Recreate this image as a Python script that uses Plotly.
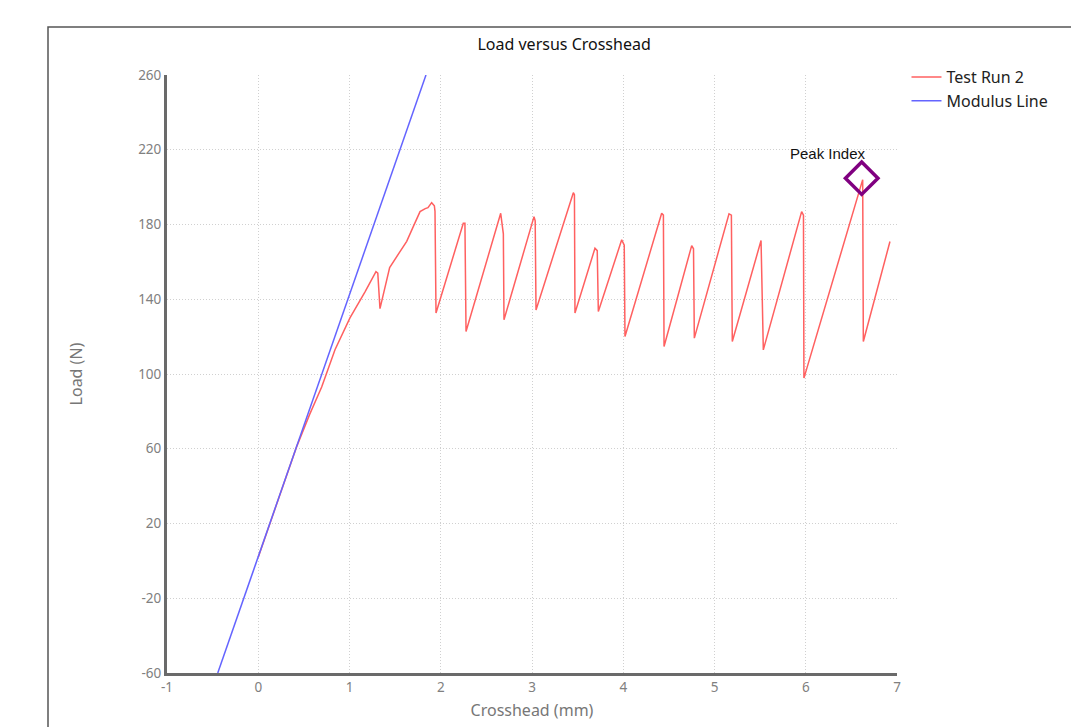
import plotly.graph_objects as go

# Test Run 2
run_x = [0.0, 0.42, 0.56, 0.695, 0.841, 1.005, 1.17, 1.29, 1.31, 1.334,
         1.44, 1.53, 1.627, 1.70, 1.773, 1.83, 1.86, 1.90, 1.93, 1.937, 1.948,
         2.247, 2.265, 2.277,
         2.657, 2.686, 2.693,
         3.022, 3.035, 3.044,
         3.453, 3.465, 3.471,
         3.69, 3.715, 3.727,
         3.983, 4.011, 4.019,
         4.421, 4.44, 4.447,
         4.75, 4.77, 4.779,
         5.159, 5.185, 5.195,
         5.51, 5.535,
         5.955, 5.975, 5.98,
         6.624, 6.631,
         6.923]
run_y = [2, 61, 78, 93, 113, 130, 144, 154.8, 154, 135,
         157, 164, 171, 179, 186.9, 188.5, 189, 191.7, 190, 187, 132.6,
         180.7, 180.7, 122.7,
         186, 175, 129,
         184.2, 182, 134.3,
         197, 196, 132.6,
         167.3, 166, 133.4,
         171.8, 169, 120.1,
         186, 185, 114.7,
         168.7, 167, 119.2,
         185.7, 185, 117.4,
         171.4, 112.9,
         186.9, 185, 97.8,
         204, 117.4,
         170.9]

# Modulus line
mod_x = [-0.444, 1.838]
mod_y = [-60, 260]

# Peak index
peak_x = [6.613]
peak_y = [204.8]
peak_label = "Peak Index"

x_ticks = [-1, 0, 1, 2, 3, 4, 5, 6, 7]
x_ticktext = ["-1", "0", "1", "2", "3", "4", "5", "6", "7"]
y_ticks = [260, 220, 180, 140, 100, 60, 20, -20, -60]
y_ticktext = ["260", "220", "180", "140", "100", "60", "20", "-20", "-60"]

fig = go.Figure()
fig.add_trace(go.Scatter(x=run_x, y=run_y, mode="lines", name="Test Run 2",
                         line=dict(color="#ff6060", width=1.5)))
fig.add_trace(go.Scatter(x=mod_x, y=mod_y, mode="lines", name="Modulus Line",
                         line=dict(color="#6464ff", width=1.5)))
fig.add_trace(go.Scatter(x=peak_x, y=peak_y, mode="markers", showlegend=False,
                         marker=dict(symbol="diamond-open", size=25,
                                     line=dict(color="#800080", width=3.5), color="#800080")))
fig.add_annotation(x=peak_x[0], y=peak_y[0], text=peak_label, showarrow=False,
                   xshift=-34, yshift=25,
                   font=dict(family="Liberation Sans, Arial", size=15, color="#111"))

axis_common = dict(showgrid=True, gridcolor="#d0d0d0", griddash="1px,2px", gridwidth=1,
                   showline=True, linecolor="#6a6a6a", linewidth=3,
                   zeroline=False, ticks="",
                   tickfont=dict(size=13.5, color="#808080"))

fig.update_xaxes(range=[-1, 7], tickvals=x_ticks, ticktext=x_ticktext,
                 title=dict(text="Crosshead (mm)", font=dict(size=16, color="#777"), standoff=10),
                 **axis_common)
fig.update_yaxes(range=[-60, 260], tickvals=y_ticks, ticktext=y_ticktext,
                 title=dict(text="Load (N)", font=dict(size=16, color="#777"), standoff=52),
                 **axis_common)

fig.update_layout(
    width=1079, height=727,
    margin=dict(l=159, r=190, t=67, b=62),
    paper_bgcolor="white", plot_bgcolor="white",
    font=dict(family="Noto Sans, Open Sans, sans-serif", color="#222"),
    title=dict(text="Load versus Crosshead", x=0.544, xref="paper", xanchor="center",
               y=1 - 36 / 727, yref="container", yanchor="middle",
               font=dict(size=16, color="#111")),
    legend=dict(x=1.013, y=1.025, xanchor="left", yanchor="top",
                font=dict(size=16, color="#222"), bgcolor="rgba(0,0,0,0)"),
    shapes=[dict(type="rect", xref="paper", yref="paper",
                 x0=(48 - 167) / 730, x1=(1073 - 167) / 730,
                 y0=(673 - 760) / 598, y1=(673 - 27) / 598,
                 line=dict(color="#555", width=1.5), layer="below")],
    showlegend=True,
)

fig.write_html("out.html")
